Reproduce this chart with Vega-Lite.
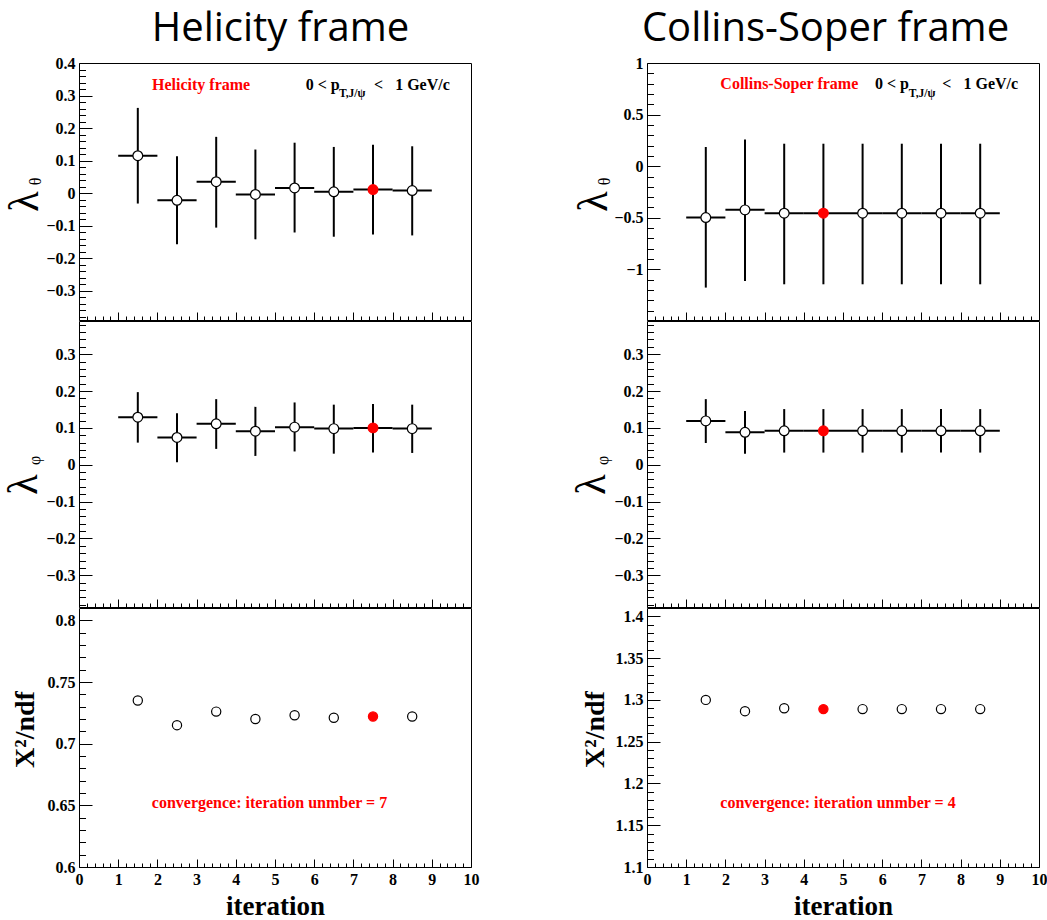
{
  "$schema": "https://vega.github.io/schema/vega-lite/v6.json",
  "background": "white",
  "padding": {"left": 1, "top": 8, "right": 0, "bottom": 0},
  "datasets": {
    "pts": [
      {"frame":"HX","panel":"theta","it":1,"xc":1.5,"xlo":1,"xhi":2,"val":0.115,"elo":-0.032,"ehi":0.262,"conv":false},
      {"frame":"HX","panel":"theta","it":2,"xc":2.5,"xlo":2,"xhi":3,"val":-0.022,"elo":-0.157,"ehi":0.113,"conv":false},
      {"frame":"HX","panel":"theta","it":3,"xc":3.5,"xlo":3,"xhi":4,"val":0.035,"elo":-0.106,"ehi":0.173,"conv":false},
      {"frame":"HX","panel":"theta","it":4,"xc":4.5,"xlo":4,"xhi":5,"val":-0.004,"elo":-0.142,"ehi":0.134,"conv":false},
      {"frame":"HX","panel":"theta","it":5,"xc":5.5,"xlo":5,"xhi":6,"val":0.016,"elo":-0.121,"ehi":0.155,"conv":false},
      {"frame":"HX","panel":"theta","it":6,"xc":6.5,"xlo":6,"xhi":7,"val":0.004,"elo":-0.134,"ehi":0.142,"conv":false},
      {"frame":"HX","panel":"theta","it":7,"xc":7.5,"xlo":7,"xhi":8,"val":0.011,"elo":-0.127,"ehi":0.149,"conv":true},
      {"frame":"HX","panel":"theta","it":8,"xc":8.5,"xlo":8,"xhi":9,"val":0.008,"elo":-0.130,"ehi":0.144,"conv":false},
      {"frame":"HX","panel":"phi","it":1,"xc":1.5,"xlo":1,"xhi":2,"val":0.129,"elo":0.060,"ehi":0.197,"conv":false},
      {"frame":"HX","panel":"phi","it":2,"xc":2.5,"xlo":2,"xhi":3,"val":0.074,"elo":0.007,"ehi":0.140,"conv":false},
      {"frame":"HX","panel":"phi","it":3,"xc":3.5,"xlo":3,"xhi":4,"val":0.111,"elo":0.043,"ehi":0.178,"conv":false},
      {"frame":"HX","panel":"phi","it":4,"xc":4.5,"xlo":4,"xhi":5,"val":0.091,"elo":0.024,"ehi":0.157,"conv":false},
      {"frame":"HX","panel":"phi","it":5,"xc":5.5,"xlo":5,"xhi":6,"val":0.102,"elo":0.036,"ehi":0.169,"conv":false},
      {"frame":"HX","panel":"phi","it":6,"xc":6.5,"xlo":6,"xhi":7,"val":0.098,"elo":0.030,"ehi":0.163,"conv":false},
      {"frame":"HX","panel":"phi","it":7,"xc":7.5,"xlo":7,"xhi":8,"val":0.100,"elo":0.033,"ehi":0.165,"conv":true},
      {"frame":"HX","panel":"phi","it":8,"xc":8.5,"xlo":8,"xhi":9,"val":0.098,"elo":0.032,"ehi":0.163,"conv":false},
      {"frame":"HX","panel":"chi2","it":1,"xc":1.5,"val":0.735,"conv":false},
      {"frame":"HX","panel":"chi2","it":2,"xc":2.5,"val":0.715,"conv":false},
      {"frame":"HX","panel":"chi2","it":3,"xc":3.5,"val":0.726,"conv":false},
      {"frame":"HX","panel":"chi2","it":4,"xc":4.5,"val":0.720,"conv":false},
      {"frame":"HX","panel":"chi2","it":5,"xc":5.5,"val":0.723,"conv":false},
      {"frame":"HX","panel":"chi2","it":6,"xc":6.5,"val":0.721,"conv":false},
      {"frame":"HX","panel":"chi2","it":7,"xc":7.5,"val":0.722,"conv":true},
      {"frame":"HX","panel":"chi2","it":8,"xc":8.5,"val":0.722,"conv":false},
      {"frame":"CS","panel":"theta","it":1,"xc":1.5,"xlo":1,"xhi":2,"val":-0.497,"elo":-1.176,"ehi":0.186,"conv":false},
      {"frame":"CS","panel":"theta","it":2,"xc":2.5,"xlo":2,"xhi":3,"val":-0.423,"elo":-1.112,"ehi":0.260,"conv":false},
      {"frame":"CS","panel":"theta","it":3,"xc":3.5,"xlo":3,"xhi":4,"val":-0.455,"elo":-1.144,"ehi":0.218,"conv":false},
      {"frame":"CS","panel":"theta","it":4,"xc":4.5,"xlo":4,"xhi":5,"val":-0.455,"elo":-1.144,"ehi":0.218,"conv":true},
      {"frame":"CS","panel":"theta","it":5,"xc":5.5,"xlo":5,"xhi":6,"val":-0.455,"elo":-1.144,"ehi":0.218,"conv":false},
      {"frame":"CS","panel":"theta","it":6,"xc":6.5,"xlo":6,"xhi":7,"val":-0.455,"elo":-1.144,"ehi":0.218,"conv":false},
      {"frame":"CS","panel":"theta","it":7,"xc":7.5,"xlo":7,"xhi":8,"val":-0.455,"elo":-1.144,"ehi":0.218,"conv":false},
      {"frame":"CS","panel":"theta","it":8,"xc":8.5,"xlo":8,"xhi":9,"val":-0.455,"elo":-1.144,"ehi":0.218,"conv":false},
      {"frame":"CS","panel":"phi","it":1,"xc":1.5,"xlo":1,"xhi":2,"val":0.119,"elo":0.059,"ehi":0.178,"conv":false},
      {"frame":"CS","panel":"phi","it":2,"xc":2.5,"xlo":2,"xhi":3,"val":0.088,"elo":0.030,"ehi":0.146,"conv":false},
      {"frame":"CS","panel":"phi","it":3,"xc":3.5,"xlo":3,"xhi":4,"val":0.092,"elo":0.033,"ehi":0.151,"conv":false},
      {"frame":"CS","panel":"phi","it":4,"xc":4.5,"xlo":4,"xhi":5,"val":0.092,"elo":0.033,"ehi":0.151,"conv":true},
      {"frame":"CS","panel":"phi","it":5,"xc":5.5,"xlo":5,"xhi":6,"val":0.092,"elo":0.033,"ehi":0.151,"conv":false},
      {"frame":"CS","panel":"phi","it":6,"xc":6.5,"xlo":6,"xhi":7,"val":0.092,"elo":0.033,"ehi":0.151,"conv":false},
      {"frame":"CS","panel":"phi","it":7,"xc":7.5,"xlo":7,"xhi":8,"val":0.092,"elo":0.033,"ehi":0.151,"conv":false},
      {"frame":"CS","panel":"phi","it":8,"xc":8.5,"xlo":8,"xhi":9,"val":0.092,"elo":0.033,"ehi":0.151,"conv":false},
      {"frame":"CS","panel":"chi2","it":1,"xc":1.5,"val":1.300,"conv":false},
      {"frame":"CS","panel":"chi2","it":2,"xc":2.5,"val":1.2865,"conv":false},
      {"frame":"CS","panel":"chi2","it":3,"xc":3.5,"val":1.290,"conv":false},
      {"frame":"CS","panel":"chi2","it":4,"xc":4.5,"val":1.289,"conv":true},
      {"frame":"CS","panel":"chi2","it":5,"xc":5.5,"val":1.289,"conv":false},
      {"frame":"CS","panel":"chi2","it":6,"xc":6.5,"val":1.289,"conv":false},
      {"frame":"CS","panel":"chi2","it":7,"xc":7.5,"val":1.289,"conv":false},
      {"frame":"CS","panel":"chi2","it":8,"xc":8.5,"val":1.289,"conv":false}
    ]
  },
  "config": {
    "view": {"stroke": "black", "strokeWidth": 1},
    "axis": {"grid": false, "domain": false, "tickColor": "black", "tickWidth": 1, "labelColor": "black", "titleColor": "black", "labelFont": "Liberation Serif", "labelFontWeight": "bold", "labelFontSize": 16, "labelOverlap": false, "labelFlush": false, "labelBound": false}
  },
  "hconcat": [
    {
      "title": {"text": "Helicity frame", "font": "Open Sans", "fontSize": 40, "fontWeight": "normal", "color": "black", "anchor": "middle", "frame": "bounds", "offset": 24, "baseline": "alphabetic", "dx": 40, "dy": 50},
      "spacing": 1,
      "bounds": "flush",
      "vconcat": [
        {
          "width": 392, "height": 257,
          "data": {"name": "pts"},
          "layer": [
            {"transform": [{"filter": "datum.frame==='HX' && datum.panel==='theta'"}],
             "mark": {"type": "rule", "strokeWidth": 2, "color": "black"},
             "encoding": {
               "x": {"field": "xc", "type": "quantitative", "scale": {"domain": [0, 10], "nice": false, "zero": false},
                     "axis": {"orient": "bottom", "values": [0,0.2,0.4,0.6,0.8,1,1.2,1.4,1.6,1.8,2,2.2,2.4,2.6,2.8,3,3.2,3.4,3.6,3.8,4,4.2,4.4,4.6,4.8,5,5.2,5.4,5.6,5.8,6,6.2,6.4,6.6,6.8,7,7.2,7.4,7.6,7.8,8,8.2,8.4,8.6,8.8,9,9.2,9.4,9.6,9.8,10], "labels": false, "title": null,
                              "tickSize": {"condition": {"test": "abs(datum.value-round(datum.value))<0.001", "value": -8}, "value": -4}}},
               "y": {"field": "elo", "type": "quantitative", "scale": {"domain": [-0.39, 0.4], "nice": false, "zero": false},
                     "axis": {"orient": "left", "values": [-0.38,-0.36,-0.34,-0.32,-0.3,-0.28,-0.26,-0.24,-0.22,-0.2,-0.18,-0.16,-0.14,-0.12,-0.1,-0.08,-0.06,-0.04,-0.02,0,0.02,0.04,0.06,0.08,0.1,0.12,0.14,0.16,0.18,0.2,0.22,0.24,0.26,0.28,0.3,0.32,0.34,0.36,0.38,0.4],
                              "labelExpr": "abs(datum.value*10-round(datum.value*10))<0.001 ? format(datum.value,'~g') : ''", "labelPadding": 17,
                              "tickSize": {"condition": {"test": "abs(datum.value*10-round(datum.value*10))<0.001", "value": -13}, "value": -6.5},
                              "title": "λ", "titleFont": "Liberation Serif", "titleFontSize": 42, "titleFontWeight": "normal", "titleAngle": 270, "titleX": -42, "titleY": 138, "titleAlign": "center", "titleBaseline": "alphabetic"}},
               "y2": {"field": "ehi"}
             }},
            {"transform": [{"filter": "datum.frame==='HX' && datum.panel==='theta'"}],
             "mark": {"type": "rule", "strokeWidth": 2, "color": "black"},
             "encoding": {
               "x": {"field": "xlo", "type": "quantitative", "axis": null},
               "x2": {"field": "xhi"},
               "y": {"field": "val", "type": "quantitative",
                     "axis": {"orient": "left", "ticks": false, "labels": false, "title": "θ", "titleFont": "Liberation Serif", "titleFontSize": 16, "titleFontWeight": "normal", "titleAngle": 270, "titleX": -39, "titleY": 118, "titleAlign": "center", "titleBaseline": "alphabetic"}}
             }},
            {"transform": [{"filter": "datum.frame==='HX' && datum.panel==='theta'"}],
             "mark": {"type": "point", "shape": "circle", "filled": true, "size": 95, "strokeWidth": 1.2, "opacity": 1},
             "encoding": {
               "x": {"field": "xc", "type": "quantitative", "axis": null},
               "y": {"field": "val", "type": "quantitative", "axis": null},
               "fill": {"condition": {"test": "datum.conv", "value": "#ff0000"}, "value": "white"},
               "stroke": {"condition": {"test": "datum.conv", "value": "#ff0000"}, "value": "black"}
             }},
            {"data": {"values": [{"t": 1}]},
             "mark": {"type": "text", "font": "Liberation Serif", "fontWeight": "bold", "fontSize": 16, "color": "#ff0000", "align": "left", "baseline": "alphabetic"},
             "encoding": {"x": {"datum": 1.862, "type": "quantitative", "axis": null}, "y": {"datum": 0.318, "type": "quantitative", "axis": null}, "text": {"value": "Helicity frame"}}},
            {"data": {"values": [{"t": 1}]},
             "mark": {"type": "text", "font": "Liberation Serif", "fontWeight": "bold", "fontSize": 16, "color": "black", "align": "left", "baseline": "alphabetic"},
             "encoding": {"x": {"datum": 5.783, "type": "quantitative", "axis": null}, "y": {"datum": 0.318, "type": "quantitative", "axis": null}, "text": {"value": "0 < p"}}},
            {"data": {"values": [{"t": 1}]},
             "mark": {"type": "text", "font": "Liberation Serif", "fontWeight": "bold", "fontSize": 11.5, "color": "black", "align": "left", "baseline": "alphabetic"},
             "encoding": {"x": {"datum": 6.63, "type": "quantitative", "axis": null}, "y": {"datum": 0.294, "type": "quantitative", "axis": null}, "text": {"value": "T,J/ψ"}}},
            {"data": {"values": [{"t": 1}]},
             "mark": {"type": "text", "font": "Liberation Serif", "fontWeight": "bold", "fontSize": 16, "color": "black", "align": "left", "baseline": "alphabetic"},
             "encoding": {"x": {"datum": 7.526, "type": "quantitative", "axis": null}, "y": {"datum": 0.318, "type": "quantitative", "axis": null}, "text": {"value": "<\u00a0\u00a0 1 GeV/c"}}}
          ],
          "resolve": {"axis": {"x": "independent", "y": "independent"}}
        },
        {
          "width": 392, "height": 286,
          "data": {"name": "pts"},
          "layer": [
            {"transform": [{"filter": "datum.frame==='HX' && datum.panel==='phi'"}],
             "mark": {"type": "rule", "strokeWidth": 2, "color": "black"},
             "encoding": {
               "x": {"field": "xc", "type": "quantitative", "scale": {"domain": [0, 10], "nice": false, "zero": false},
                     "axis": {"orient": "bottom", "values": [0,0.2,0.4,0.6,0.8,1,1.2,1.4,1.6,1.8,2,2.2,2.4,2.6,2.8,3,3.2,3.4,3.6,3.8,4,4.2,4.4,4.6,4.8,5,5.2,5.4,5.6,5.8,6,6.2,6.4,6.6,6.8,7,7.2,7.4,7.6,7.8,8,8.2,8.4,8.6,8.8,9,9.2,9.4,9.6,9.8,10], "labels": false, "title": null,
                              "tickSize": {"condition": {"test": "abs(datum.value-round(datum.value))<0.001", "value": -8}, "value": -4}}},
               "y": {"field": "elo", "type": "quantitative", "scale": {"domain": [-0.386, 0.39], "nice": false, "zero": false},
                     "axis": {"orient": "left", "values": [-0.38,-0.36,-0.34,-0.32,-0.3,-0.28,-0.26,-0.24,-0.22,-0.2,-0.18,-0.16,-0.14,-0.12,-0.1,-0.08,-0.06,-0.04,-0.02,0,0.02,0.04,0.06,0.08,0.1,0.12,0.14,0.16,0.18,0.2,0.22,0.24,0.26,0.28,0.3,0.32,0.34,0.36,0.38],
                              "labelExpr": "abs(datum.value*10-round(datum.value*10))<0.001 ? format(datum.value,'~g') : ''", "labelPadding": 17,
                              "tickSize": {"condition": {"test": "abs(datum.value*10-round(datum.value*10))<0.001", "value": -13}, "value": -6.5},
                              "title": "λ", "titleFont": "Liberation Serif", "titleFontSize": 42, "titleFontWeight": "normal", "titleAngle": 270, "titleX": -43, "titleY": 163, "titleAlign": "center", "titleBaseline": "alphabetic"}},
               "y2": {"field": "ehi"}
             }},
            {"transform": [{"filter": "datum.frame==='HX' && datum.panel==='phi'"}],
             "mark": {"type": "rule", "strokeWidth": 2, "color": "black"},
             "encoding": {
               "x": {"field": "xlo", "type": "quantitative", "axis": null},
               "x2": {"field": "xhi"},
               "y": {"field": "val", "type": "quantitative",
                     "axis": {"orient": "left", "ticks": false, "labels": false, "title": "φ", "titleFont": "Liberation Serif", "titleFontSize": 16, "titleFontWeight": "normal", "titleAngle": 270, "titleX": -40, "titleY": 139, "titleAlign": "center", "titleBaseline": "alphabetic"}}
             }},
            {"transform": [{"filter": "datum.frame==='HX' && datum.panel==='phi'"}],
             "mark": {"type": "point", "shape": "circle", "filled": true, "size": 95, "strokeWidth": 1.2, "opacity": 1},
             "encoding": {
               "x": {"field": "xc", "type": "quantitative", "axis": null},
               "y": {"field": "val", "type": "quantitative", "axis": null},
               "fill": {"condition": {"test": "datum.conv", "value": "#ff0000"}, "value": "white"},
               "stroke": {"condition": {"test": "datum.conv", "value": "#ff0000"}, "value": "black"}
             }}
          ],
          "resolve": {"axis": {"x": "independent", "y": "independent"}}
        },
        {
          "width": 392, "height": 259,
          "data": {"name": "pts"},
          "layer": [
            {"transform": [{"filter": "datum.frame==='HX' && datum.panel==='chi2'"}],
             "mark": {"type": "point", "shape": "circle", "filled": true, "size": 85, "strokeWidth": 1.2, "opacity": 1},
             "encoding": {
               "x": {"field": "xc", "type": "quantitative", "scale": {"domain": [0, 10], "nice": false, "zero": false},
                     "axis": {"orient": "bottom", "values": [0,0.2,0.4,0.6,0.8,1,1.2,1.4,1.6,1.8,2,2.2,2.4,2.6,2.8,3,3.2,3.4,3.6,3.8,4,4.2,4.4,4.6,4.8,5,5.2,5.4,5.6,5.8,6,6.2,6.4,6.6,6.8,7,7.2,7.4,7.6,7.8,8,8.2,8.4,8.6,8.8,9,9.2,9.4,9.6,9.8,10],
                              "labelExpr": "abs(datum.value-round(datum.value))<0.001 ? format(datum.value,'d') : ''", "labelPadding": 12,
                              "tickSize": {"condition": {"test": "abs(datum.value-round(datum.value))<0.001", "value": -8}, "value": -4},
                              "title": "iteration", "titleFont": "Liberation Serif", "titleFontSize": 27, "titleFontWeight": "bold", "titleX": 196, "titleY": 47, "titleAlign": "center", "titleBaseline": "alphabetic"}},
               "y": {"field": "val", "type": "quantitative", "scale": {"domain": [0.6, 0.81], "nice": false, "zero": false},
                     "axis": {"orient": "left", "values": [0.6,0.61,0.62,0.63,0.64,0.65,0.66,0.67,0.68,0.69,0.7,0.71,0.72,0.73,0.74,0.75,0.76,0.77,0.78,0.79,0.8],
                              "labelExpr": "abs(datum.value*20-round(datum.value*20))<0.001 ? format(datum.value,'~g') : ''", "labelPadding": 17,
                              "tickSize": {"condition": {"test": "abs(datum.value*20-round(datum.value*20))<0.001", "value": -13}, "value": -6.5},
                              "title": "X²/ndf", "titleFont": "Liberation Serif", "titleFontSize": 28, "titleFontWeight": "bold", "titleAngle": 270, "titleX": -46, "titleY": 121, "titleAlign": "center", "titleBaseline": "alphabetic"}},
               "fill": {"condition": {"test": "datum.conv", "value": "#ff0000"}, "value": "white"},
               "stroke": {"condition": {"test": "datum.conv", "value": "#ff0000"}, "value": "black"}
             }},
            {"data": {"values": [{"t": 1}]},
             "mark": {"type": "text", "font": "Liberation Serif", "fontWeight": "bold", "fontSize": 16, "color": "#ff0000", "align": "center", "baseline": "alphabetic"},
             "encoding": {"x": {"datum": 4.86, "type": "quantitative", "axis": null}, "y": {"datum": 0.6478, "type": "quantitative", "axis": null}, "text": {"value": "convergence: iteration unmber = 7"}}}
          ],
          "resolve": {"axis": {"x": "independent", "y": "independent"}}
        }
      ]
    },
    {
      "title": {"text": "Collins-Soper frame", "font": "Open Sans", "fontSize": 40, "fontWeight": "normal", "color": "black", "anchor": "middle", "frame": "bounds", "offset": 24, "baseline": "alphabetic", "dx": 17, "dy": 50},
      "spacing": 1,
      "bounds": "flush",
      "vconcat": [
        {
          "width": 392, "height": 257,
          "data": {"name": "pts"},
          "layer": [
            {"transform": [{"filter": "datum.frame==='CS' && datum.panel==='theta'"}],
             "mark": {"type": "rule", "strokeWidth": 2, "color": "black"},
             "encoding": {
               "x": {"field": "xc", "type": "quantitative", "scale": {"domain": [0, 10], "nice": false, "zero": false},
                     "axis": {"orient": "bottom", "values": [0,0.2,0.4,0.6,0.8,1,1.2,1.4,1.6,1.8,2,2.2,2.4,2.6,2.8,3,3.2,3.4,3.6,3.8,4,4.2,4.4,4.6,4.8,5,5.2,5.4,5.6,5.8,6,6.2,6.4,6.6,6.8,7,7.2,7.4,7.6,7.8,8,8.2,8.4,8.6,8.8,9,9.2,9.4,9.6,9.8,10], "labels": false, "title": null,
                              "tickSize": {"condition": {"test": "abs(datum.value-round(datum.value))<0.001", "value": -8}, "value": -4}}},
               "y": {"field": "elo", "type": "quantitative", "scale": {"domain": [-1.49, 1], "nice": false, "zero": false},
                     "axis": {"orient": "left", "values": [-1.4,-1.3,-1.2,-1.1,-1,-0.9,-0.8,-0.7,-0.6,-0.5,-0.4,-0.3,-0.2,-0.1,0,0.1,0.2,0.3,0.4,0.5,0.6,0.7,0.8,0.9,1],
                              "labelExpr": "abs(datum.value*2-round(datum.value*2))<0.001 ? format(datum.value,'~g') : ''", "labelPadding": 17,
                              "tickSize": {"condition": {"test": "abs(datum.value*2-round(datum.value*2))<0.001", "value": -13}, "value": -6.5},
                              "title": "λ", "titleFont": "Liberation Serif", "titleFontSize": 42, "titleFontWeight": "normal", "titleAngle": 270, "titleX": -41, "titleY": 138, "titleAlign": "center", "titleBaseline": "alphabetic"}},
               "y2": {"field": "ehi"}
             }},
            {"transform": [{"filter": "datum.frame==='CS' && datum.panel==='theta'"}],
             "mark": {"type": "rule", "strokeWidth": 2, "color": "black"},
             "encoding": {
               "x": {"field": "xlo", "type": "quantitative", "axis": null},
               "x2": {"field": "xhi"},
               "y": {"field": "val", "type": "quantitative",
                     "axis": {"orient": "left", "ticks": false, "labels": false, "title": "θ", "titleFont": "Liberation Serif", "titleFontSize": 16, "titleFontWeight": "normal", "titleAngle": 270, "titleX": -38, "titleY": 118, "titleAlign": "center", "titleBaseline": "alphabetic"}}
             }},
            {"transform": [{"filter": "datum.frame==='CS' && datum.panel==='theta'"}],
             "mark": {"type": "point", "shape": "circle", "filled": true, "size": 95, "strokeWidth": 1.2, "opacity": 1},
             "encoding": {
               "x": {"field": "xc", "type": "quantitative", "axis": null},
               "y": {"field": "val", "type": "quantitative", "axis": null},
               "fill": {"condition": {"test": "datum.conv", "value": "#ff0000"}, "value": "white"},
               "stroke": {"condition": {"test": "datum.conv", "value": "#ff0000"}, "value": "black"}
             }},
            {"data": {"values": [{"t": 1}]},
             "mark": {"type": "text", "font": "Liberation Serif", "fontWeight": "bold", "fontSize": 16, "color": "#ff0000", "align": "left", "baseline": "alphabetic"},
             "encoding": {"x": {"datum": 1.871, "type": "quantitative", "axis": null}, "y": {"datum": 0.745, "type": "quantitative", "axis": null}, "text": {"value": "Collins-Soper frame"}}},
            {"data": {"values": [{"t": 1}]},
             "mark": {"type": "text", "font": "Liberation Serif", "fontWeight": "bold", "fontSize": 16, "color": "black", "align": "left", "baseline": "alphabetic"},
             "encoding": {"x": {"datum": 5.815, "type": "quantitative", "axis": null}, "y": {"datum": 0.745, "type": "quantitative", "axis": null}, "text": {"value": "0 < p"}}},
            {"data": {"values": [{"t": 1}]},
             "mark": {"type": "text", "font": "Liberation Serif", "fontWeight": "bold", "fontSize": 11.5, "color": "black", "align": "left", "baseline": "alphabetic"},
             "encoding": {"x": {"datum": 6.68, "type": "quantitative", "axis": null}, "y": {"datum": 0.668, "type": "quantitative", "axis": null}, "text": {"value": "T,J/ψ"}}},
            {"data": {"values": [{"t": 1}]},
             "mark": {"type": "text", "font": "Liberation Serif", "fontWeight": "bold", "fontSize": 16, "color": "black", "align": "left", "baseline": "alphabetic"},
             "encoding": {"x": {"datum": 7.535, "type": "quantitative", "axis": null}, "y": {"datum": 0.745, "type": "quantitative", "axis": null}, "text": {"value": "<\u00a0\u00a0 1 GeV/c"}}}
          ],
          "resolve": {"axis": {"x": "independent", "y": "independent"}}
        },
        {
          "width": 392, "height": 286,
          "data": {"name": "pts"},
          "layer": [
            {"transform": [{"filter": "datum.frame==='CS' && datum.panel==='phi'"}],
             "mark": {"type": "rule", "strokeWidth": 2, "color": "black"},
             "encoding": {
               "x": {"field": "xc", "type": "quantitative", "scale": {"domain": [0, 10], "nice": false, "zero": false},
                     "axis": {"orient": "bottom", "values": [0,0.2,0.4,0.6,0.8,1,1.2,1.4,1.6,1.8,2,2.2,2.4,2.6,2.8,3,3.2,3.4,3.6,3.8,4,4.2,4.4,4.6,4.8,5,5.2,5.4,5.6,5.8,6,6.2,6.4,6.6,6.8,7,7.2,7.4,7.6,7.8,8,8.2,8.4,8.6,8.8,9,9.2,9.4,9.6,9.8,10], "labels": false, "title": null,
                              "tickSize": {"condition": {"test": "abs(datum.value-round(datum.value))<0.001", "value": -8}, "value": -4}}},
               "y": {"field": "elo", "type": "quantitative", "scale": {"domain": [-0.386, 0.39], "nice": false, "zero": false},
                     "axis": {"orient": "left", "values": [-0.38,-0.36,-0.34,-0.32,-0.3,-0.28,-0.26,-0.24,-0.22,-0.2,-0.18,-0.16,-0.14,-0.12,-0.1,-0.08,-0.06,-0.04,-0.02,0,0.02,0.04,0.06,0.08,0.1,0.12,0.14,0.16,0.18,0.2,0.22,0.24,0.26,0.28,0.3,0.32,0.34,0.36,0.38],
                              "labelExpr": "abs(datum.value*10-round(datum.value*10))<0.001 ? format(datum.value,'~g') : ''", "labelPadding": 17,
                              "tickSize": {"condition": {"test": "abs(datum.value*10-round(datum.value*10))<0.001", "value": -13}, "value": -6.5},
                              "title": "λ", "titleFont": "Liberation Serif", "titleFontSize": 42, "titleFontWeight": "normal", "titleAngle": 270, "titleX": -43, "titleY": 163, "titleAlign": "center", "titleBaseline": "alphabetic"}},
               "y2": {"field": "ehi"}
             }},
            {"transform": [{"filter": "datum.frame==='CS' && datum.panel==='phi'"}],
             "mark": {"type": "rule", "strokeWidth": 2, "color": "black"},
             "encoding": {
               "x": {"field": "xlo", "type": "quantitative", "axis": null},
               "x2": {"field": "xhi"},
               "y": {"field": "val", "type": "quantitative",
                     "axis": {"orient": "left", "ticks": false, "labels": false, "title": "φ", "titleFont": "Liberation Serif", "titleFontSize": 16, "titleFontWeight": "normal", "titleAngle": 270, "titleX": -40, "titleY": 139, "titleAlign": "center", "titleBaseline": "alphabetic"}}
             }},
            {"transform": [{"filter": "datum.frame==='CS' && datum.panel==='phi'"}],
             "mark": {"type": "point", "shape": "circle", "filled": true, "size": 95, "strokeWidth": 1.2, "opacity": 1},
             "encoding": {
               "x": {"field": "xc", "type": "quantitative", "axis": null},
               "y": {"field": "val", "type": "quantitative", "axis": null},
               "fill": {"condition": {"test": "datum.conv", "value": "#ff0000"}, "value": "white"},
               "stroke": {"condition": {"test": "datum.conv", "value": "#ff0000"}, "value": "black"}
             }}
          ],
          "resolve": {"axis": {"x": "independent", "y": "independent"}}
        },
        {
          "width": 392, "height": 259,
          "data": {"name": "pts"},
          "layer": [
            {"transform": [{"filter": "datum.frame==='CS' && datum.panel==='chi2'"}],
             "mark": {"type": "point", "shape": "circle", "filled": true, "size": 85, "strokeWidth": 1.2, "opacity": 1},
             "encoding": {
               "x": {"field": "xc", "type": "quantitative", "scale": {"domain": [0, 10], "nice": false, "zero": false},
                     "axis": {"orient": "bottom", "values": [0,0.2,0.4,0.6,0.8,1,1.2,1.4,1.6,1.8,2,2.2,2.4,2.6,2.8,3,3.2,3.4,3.6,3.8,4,4.2,4.4,4.6,4.8,5,5.2,5.4,5.6,5.8,6,6.2,6.4,6.6,6.8,7,7.2,7.4,7.6,7.8,8,8.2,8.4,8.6,8.8,9,9.2,9.4,9.6,9.8,10],
                              "labelExpr": "abs(datum.value-round(datum.value))<0.001 ? format(datum.value,'d') : ''", "labelPadding": 12,
                              "tickSize": {"condition": {"test": "abs(datum.value-round(datum.value))<0.001", "value": -8}, "value": -4},
                              "title": "iteration", "titleFont": "Liberation Serif", "titleFontSize": 27, "titleFontWeight": "bold", "titleX": 196, "titleY": 47, "titleAlign": "center", "titleBaseline": "alphabetic"}},
               "y": {"field": "val", "type": "quantitative", "scale": {"domain": [1.1, 1.41], "nice": false, "zero": false},
                     "axis": {"orient": "left", "values": [1.1,1.11,1.12,1.13,1.14,1.15,1.16,1.17,1.18,1.19,1.2,1.21,1.22,1.23,1.24,1.25,1.26,1.27,1.28,1.29,1.3,1.31,1.32,1.33,1.34,1.35,1.36,1.37,1.38,1.39,1.4],
                              "labelExpr": "abs(datum.value*20-round(datum.value*20))<0.001 ? format(datum.value,'~g') : ''", "labelPadding": 17,
                              "tickSize": {"condition": {"test": "abs(datum.value*20-round(datum.value*20))<0.001", "value": -13}, "value": -6.5},
                              "title": "X²/ndf", "titleFont": "Liberation Serif", "titleFontSize": 28, "titleFontWeight": "bold", "titleAngle": 270, "titleX": -44, "titleY": 121, "titleAlign": "center", "titleBaseline": "alphabetic"}},
               "fill": {"condition": {"test": "datum.conv", "value": "#ff0000"}, "value": "white"},
               "stroke": {"condition": {"test": "datum.conv", "value": "#ff0000"}, "value": "black"}
             }},
            {"data": {"values": [{"t": 1}]},
             "mark": {"type": "text", "font": "Liberation Serif", "fontWeight": "bold", "fontSize": 16, "color": "#ff0000", "align": "center", "baseline": "alphabetic"},
             "encoding": {"x": {"datum": 4.873, "type": "quantitative", "axis": null}, "y": {"datum": 1.1706, "type": "quantitative", "axis": null}, "text": {"value": "convergence: iteration unmber = 4"}}}
          ],
          "resolve": {"axis": {"x": "independent", "y": "independent"}}
        }
      ]
    }
  ],
  "spacing": 89
}
